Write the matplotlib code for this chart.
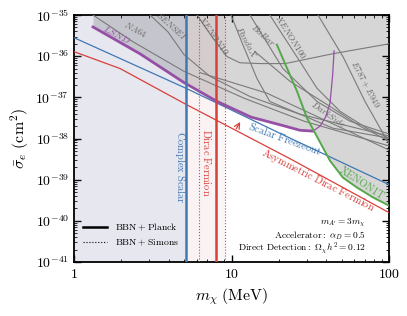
import numpy as np
import matplotlib
matplotlib.use("Agg")
import matplotlib.pyplot as plt
from matplotlib.ticker import FuncFormatter, LogLocator

plt.rcParams['mathtext.fontset'] = 'cm'
plt.rcParams['font.family'] = 'serif'
plt.rcParams['font.serif'] = ['DejaVu Serif']

# ---- data: masses in MeV, log10 of cross-section in cm^2 ----
freeze_m = [1.0, 5.14, 23.5, 100.0]
freeze_ls = [-35.55, -36.78, -37.99, -39.12]

asym_m = [1.0, 1.96, 5.14, 23.5, 100.0]
asym_ls = [-35.89, -36.30, -37.17, -38.49, -39.80]

lsnd_m = [1.32, 2.62, 4.99, 8.09, 13.3, 21.9, 27.2, 32.9]
lsnd_ls = [-35.29, -35.94, -36.64, -37.10, -37.48, -37.70, -37.80, -37.82]
lsnd_tail_m = [32.9, 36.5, 39.8, 42.2, 43.8, 44.8]
lsnd_tail_ls = [-37.82, -37.70, -37.46, -37.14, -36.49, -35.87]

xenon1t_m = [19.4, 26.1, 30.2, 42.2, 51.0, 62.6, 79.1, 100.0]
xenon1t_ls = [-35.72, -36.86, -37.51, -38.54, -38.95, -39.19, -39.43, -39.63]

grey_curves = {
    'NA64': ([1.32, 2.37, 5.0, 12.0, 28.9, 100.0],
             [-35.0, -35.65, -36.37, -37.02, -37.58, -38.18]),
    'SENSEI': ([3.04, 3.95, 4.99, 7.30, 13.1, 27.2, 100.0],
               [-35.0, -35.41, -35.96, -36.49, -36.98, -37.41, -37.94]),
    'XENON10': ([6.04, 7.52, 9.36, 11.3, 15.2, 21.9, 44.1, 100.0],
                [-35.0, -35.53, -36.01, -36.16, -36.18, -36.18, -35.94, -35.70]),
    'PandaX': ([9.93, 11.8, 14.5, 17.5, 27.2, 44.1, 100.0],
               [-35.0, -35.72, -36.54, -37.10, -37.41, -37.75, -37.99]),
    'BaBar': ([13.1, 21.2, 34.9, 56.5, 100.0],
              [-35.0, -36.30, -37.10, -37.58, -37.89]),
    'XENON100': ([17.5, 27.2, 34.9, 48.9, 72.5, 100.0],
                 [-35.0, -36.13, -36.78, -37.34, -37.75, -37.99]),
    'E787': ([35.4, 51.0, 70.4, 100.0],
             [-35.0, -36.01, -37.10, -38.13]),
    'DarkSide': ([14.1, 23.5, 42.2, 65.4, 100.0],
                 [-35.89, -36.61, -37.22, -37.70, -38.06]),
    'extra1': ([6.31, 16.8, 100.0],
               [-36.40, -36.90, -38.28]),
}

# BBN lower bounds on the mass (MeV)
complex_scalar_planck = 5.14
complex_scalar_simons = 6.22
dirac_planck = 7.94
dirac_simons = 9.09

blue = '#3f78b2'
red = '#d8403a'
purple = '#9550a5'
green = '#55a84a'
grey = '#7a7a7a'

fig = plt.figure(figsize=(4.07, 3.16), dpi=100)
ax = fig.add_axes([0.1818, 0.1709, 0.774, 0.7816])

# excluded grey region: above LSND / XENON1T
mg = np.logspace(np.log10(lsnd_m[0]), 2, 500)
lm = np.log10(mg)
low_l = np.interp(lm, np.log10(lsnd_m), lsnd_ls, right=np.inf)
low_g = np.interp(lm, np.log10(xenon1t_m), xenon1t_ls, left=np.inf, right=np.inf)
low = np.minimum(low_l, low_g)
ax.fill_between(mg, 10**low, 1e-35, color='#d6d6d6', lw=0, zorder=1)

# BBN excluded bands
ax.axvspan(1, complex_scalar_planck, color='#6464a0', alpha=0.15, lw=0, zorder=2)
ax.axvspan(complex_scalar_planck, dirac_planck, color='#c84040', alpha=0.06, lw=0, zorder=2)
ax.axvspan(dirac_planck, dirac_simons, color='#c84040', alpha=0.04, lw=0, zorder=2)

for name, (mm, ls) in grey_curves.items():
    ax.plot(mm, 10**np.array(ls), color=grey, lw=0.8, zorder=3)

ax.plot(freeze_m, 10**np.array(freeze_ls), color=blue, lw=0.9, zorder=4)
ax.plot(asym_m, 10**np.array(asym_ls), color=red, lw=0.9, zorder=4)
ax.plot(lsnd_m, 10**np.array(lsnd_ls), color=purple, lw=2.0, zorder=5)
ax.plot(lsnd_tail_m, 10**np.array(lsnd_tail_ls), color=purple, lw=0.9, zorder=5)
ax.plot(xenon1t_m, 10**np.array(xenon1t_ls), color=green, lw=1.4, zorder=5)

ax.axvline(complex_scalar_planck, color=blue, lw=1.8, zorder=6)
ax.axvline(complex_scalar_simons, color=blue, lw=0.8, ls=':', zorder=6)
ax.axvline(dirac_planck, color=red, lw=1.8, zorder=6)
ax.axvline(dirac_simons, color=red, lw=0.8, ls=':', zorder=6)

ax.annotate('', xy=(11.6, 10**-37.54), xytext=(10.5, 10**-37.82),
            arrowprops=dict(arrowstyle='->', color=red, lw=0.9), zorder=6)

# labels
gk = dict(color='#666666', fontsize=6.5, ha='center', va='center', zorder=6)
ax.text(2.44, 10**-35.34, r'$\mathit{NA64}$', rotation=-28, **gk)
ax.text(4.19, 10**-35.27, r'$\mathit{SENSEI}$', rotation=-42, **gk)
ax.text(7.63, 10**-35.48, r'$\mathit{XENON10}$', rotation=-55, **gk)
ax.text(12.4, 10**-35.67, r'$\mathit{PandaX}$', rotation=-62, **gk)
ax.text(15.8, 10**-35.48, r'$\mathit{BaBar}$', rotation=-42, **gk)
ax.text(23.9, 10**-35.53, r'$\mathit{XENON100}$', rotation=-58, **gk)
ax.text(70.4, 10**-36.69, r'$\mathit{E787+E949}$', rotation=-62, **gk)
ax.text(41.6, 10**-37.41, r'$\mathit{DarkSide}$', rotation=-35, **gk)
ax.text(1.875, 10**-35.48, r'$\mathbf{\mathit{LSND}}$', rotation=-28, color=purple,
        fontsize=7, ha='center', va='center', zorder=6)
ax.text(21.9, 10**-37.99, r'$\mathrm{Scalar\ Freezeout}$', rotation=-20, color=blue,
        fontsize=7.5, ha='center', va='center', zorder=6)
ax.text(35.4, 10**-39.02, r'$\mathrm{Asymmetric\ Dirac\ Fermion}$', rotation=-27, color=red,
        fontsize=7.5, ha='center', va='center', zorder=6)
ax.text(67.4, 10**-39.07, r'$\mathrm{XENON1T}$', rotation=-33, color=green,
        fontsize=7.5, ha='center', va='center', zorder=6)
ax.text(4.71, 10**-38.7, r'$\mathrm{Complex\ Scalar}$', rotation=-90, color=blue,
        fontsize=7.5, ha='center', va='center', zorder=6)
ax.text(6.99, 10**-38.6, r'$\mathrm{Dirac\ Fermion}$', rotation=-90, color=red,
        fontsize=7.5, ha='center', va='center', zorder=6)

ax.text(0.927, 0.160, r"$m_{A'} = 3 m_\chi$", transform=ax.transAxes, ha='right', va='center', fontsize=6.8)
ax.text(0.927, 0.106, r"$\mathrm{Accelerator:}\ \alpha_D = 0.5$", transform=ax.transAxes,
        ha='right', va='center', fontsize=6.8)
ax.text(0.927, 0.055, r"$\mathrm{Direct\ Detection:}\ \Omega_\chi h^2 = 0.12$", transform=ax.transAxes,
        ha='right', va='center', fontsize=6.8)

ax.plot([], [], color='k', lw=1.8, label=r'$\mathrm{BBN + Planck}$')
ax.plot([], [], color='k', lw=0.8, ls=':', label=r'$\mathrm{BBN + Simons}$')
ax.legend(loc='lower left', frameon=False, fontsize=7, handlelength=2.5,
          bbox_to_anchor=(0.0, 0.02))

ax.set_xscale('log')
ax.set_yscale('log')
ax.set_xlim(1, 100)
ax.set_ylim(1e-41, 1e-35)
ax.yaxis.set_major_locator(LogLocator(base=10, numticks=10))
ax.yaxis.set_major_formatter(FuncFormatter(lambda v, p: r'$10^{%d}$' % round(np.log10(v))))
ax.xaxis.set_major_formatter(FuncFormatter(lambda v, p: r'$%d$' % round(v)))
ax.set_xlabel(r'$m_\chi\ \mathrm{(MeV)}$', fontsize=11.5, labelpad=4)
ax.set_ylabel(r'$\bar{\sigma}_e\ (\mathrm{cm}^2)$', fontsize=11.5, labelpad=3)
ax.tick_params(which='both', direction='in', top=True, right=True, labelsize=10)
ax.tick_params(which='major', length=5, width=1)
ax.tick_params(which='minor', length=2.5, width=0.6)
for s in ax.spines.values():
    s.set_linewidth(1.3)

fig.savefig('out.png', dpi=100)
